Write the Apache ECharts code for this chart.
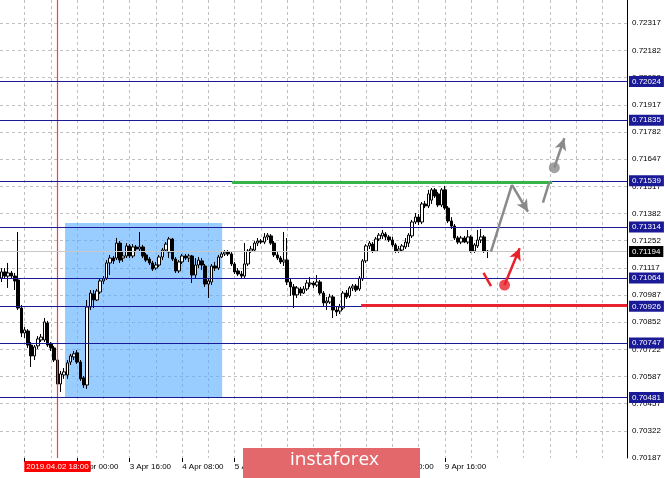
<!DOCTYPE html>
<html><head><meta charset="utf-8">
<script src="https://cdn.jsdelivr.net/npm/echarts@6/dist/echarts.min.js"></script>
<style>html,body{margin:0;padding:0;background:#fff}#c{width:665px;height:478px}</style>
</head><body><div id="c"></div>
<script>
// ---- data ----
const sessions = [['2019.04.02',1,23],['2019.04.03',0,23],['2019.04.04',0,23],['2019.04.05',0,23],
                  ['2019.04.08',0,23],['2019.04.09',0,23],['2019.04.10',0,23],['2019.04.11',0,23]];
const categories = [];
sessions.forEach(([d,h0,h1]) => { for (let h=h0; h<=h1; h++) categories.push(d+' '+String(h).padStart(2,'0')+':00'); });

// [open, close, low, high]
const candles = [
[0.71064,0.71094,0.71045,0.71113],[0.71094,0.71074,0.71060,0.71113],[0.71074,0.71089,0.71016,0.71138],[0.71089,0.71074,0.71060,0.71099],
[0.71074,0.71050,0.71006,0.71089],[0.71055,0.70918,0.70908,0.71289],[0.70918,0.70796,0.70776,0.70933],[0.70796,0.70811,0.70772,0.70825],
[0.70806,0.70737,0.70723,0.70815],[0.70737,0.70684,0.70630,0.70752],[0.70684,0.70728,0.70664,0.70737],[0.70733,0.70767,0.70718,0.70781],
[0.70762,0.70776,0.70752,0.70791],[0.70762,0.70850,0.70752,0.70869],[0.70845,0.70737,0.70728,0.70855],[0.70742,0.70723,0.70708,0.70752],
[0.70723,0.70664,0.70654,0.70733],[0.70664,0.70547,0.70537,0.70674],[0.70547,0.70596,0.70508,0.70611],[0.70591,0.70606,0.70572,0.70625],
[0.70591,0.70650,0.70572,0.70664],[0.70654,0.70684,0.70640,0.70694],[0.70679,0.70694,0.70664,0.70708],[0.70699,0.70654,0.70645,0.70713],
[0.70654,0.70572,0.70562,0.70664],[0.70577,0.70542,0.70528,0.70586],[0.70542,0.70923,0.70523,0.70957],[0.70923,0.70991,0.70908,0.71006],
[0.70987,0.70957,0.70918,0.71006],[0.70957,0.71001,0.70952,0.71011],[0.70996,0.71050,0.70987,0.71060],[0.71050,0.71060,0.71035,0.71074],
[0.71064,0.71138,0.71055,0.71152],[0.71138,0.71162,0.71079,0.71177],[0.71162,0.71148,0.71133,0.71172],[0.71162,0.71235,0.71152,0.71260],
[0.71235,0.71152,0.71138,0.71245],[0.71162,0.71172,0.71143,0.71191],[0.71172,0.71221,0.71162,0.71235],[0.71221,0.71172,0.71162,0.71230],
[0.71172,0.71216,0.71162,0.71230],[0.71216,0.71206,0.71191,0.71226],[0.71206,0.71216,0.71191,0.71289],[0.71216,0.71172,0.71162,0.71226],
[0.71177,0.71152,0.71143,0.71187],[0.71157,0.71138,0.71128,0.71167],[0.71138,0.71108,0.71099,0.71148],[0.71113,0.71128,0.71104,0.71143],
[0.71128,0.71167,0.71118,0.71177],[0.71167,0.71201,0.71152,0.71211],[0.71201,0.71230,0.71196,0.71240],[0.71191,0.71255,0.71162,0.71265],
[0.71255,0.71157,0.71148,0.71260],[0.71157,0.71099,0.71089,0.71167],[0.71099,0.71143,0.71089,0.71152],[0.71143,0.71172,0.71133,0.71182],
[0.71172,0.71162,0.71152,0.71182],[0.71162,0.71172,0.71143,0.71182],[0.71172,0.71079,0.71040,0.71177],[0.71079,0.71128,0.71060,0.71162],
[0.71128,0.71152,0.71113,0.71167],[0.71148,0.71128,0.71104,0.71162],[0.71123,0.71035,0.71021,0.71133],[0.71035,0.71050,0.70967,0.71064],
[0.71045,0.71123,0.71030,0.71133],[0.71123,0.71113,0.71099,0.71143],[0.71113,0.71167,0.71104,0.71177],[0.71167,0.71182,0.71162,0.71196],
[0.71182,0.71191,0.71172,0.71201],[0.71191,0.71182,0.71172,0.71201],[0.71182,0.71133,0.71123,0.71191],[0.71133,0.71094,0.71084,0.71143],
[0.71099,0.71084,0.71074,0.71113],[0.71084,0.71074,0.71064,0.71099],[0.71074,0.71133,0.71064,0.71235],[0.71133,0.71196,0.71123,0.71206],
[0.71196,0.71206,0.71187,0.71221],[0.71201,0.71235,0.71191,0.71245],[0.71235,0.71245,0.71221,0.71260],[0.71245,0.71240,0.71230,0.71255],
[0.71240,0.71265,0.71230,0.71284],[0.71265,0.71274,0.71250,0.71284],[0.71270,0.71235,0.71226,0.71279],[0.71235,0.71177,0.71167,0.71245],
[0.71177,0.71162,0.71152,0.71191],[0.71162,0.71143,0.71133,0.71172],[0.71143,0.71152,0.71123,0.71289],[0.71152,0.71045,0.71030,0.71260],
[0.71045,0.71021,0.70977,0.71060],[0.71021,0.70982,0.70918,0.71035],[0.70982,0.71016,0.70967,0.71025],[0.71011,0.70991,0.70977,0.71021],
[0.70991,0.71011,0.70987,0.71025],[0.71011,0.71040,0.71001,0.71055],[0.71035,0.71040,0.71021,0.71069],[0.71040,0.71030,0.71016,0.71050],
[0.71030,0.71045,0.71021,0.71079],[0.71045,0.70991,0.70982,0.71055],[0.70991,0.70943,0.70928,0.71001],[0.70943,0.70952,0.70908,0.70972],
[0.70947,0.70972,0.70938,0.70987],[0.70972,0.70908,0.70869,0.70982],[0.70908,0.70899,0.70879,0.70928],[0.70903,0.70923,0.70889,0.70938],
[0.70918,0.70991,0.70908,0.71001],[0.70991,0.70972,0.70962,0.71006],[0.70977,0.71016,0.70967,0.71025],[0.71016,0.71025,0.71001,0.71035],
[0.71025,0.71006,0.70996,0.71035],[0.71011,0.71064,0.71001,0.71074],[0.71060,0.71148,0.71050,0.71157],[0.71148,0.71221,0.71138,0.71230],
[0.71221,0.71235,0.71206,0.71245],[0.71230,0.71196,0.71187,0.71240],[0.71196,0.71255,0.71191,0.71265],[0.71255,0.71274,0.71245,0.71284],
[0.71270,0.71284,0.71255,0.71299],[0.71279,0.71265,0.71250,0.71289],[0.71265,0.71250,0.71240,0.71274],[0.71250,0.71226,0.71216,0.71265],
[0.71226,0.71196,0.71187,0.71235],[0.71196,0.71206,0.71187,0.71221],[0.71201,0.71221,0.71191,0.71230],[0.71216,0.71240,0.71206,0.71260],
[0.71235,0.71274,0.71216,0.71284],[0.71270,0.71338,0.71260,0.71348],[0.71338,0.71362,0.71328,0.71382],[0.71362,0.71338,0.71323,0.71377],
[0.71338,0.71426,0.71328,0.71436],[0.71426,0.71416,0.71406,0.71441],[0.71416,0.71475,0.71406,0.71495],[0.71445,0.71495,0.71426,0.71504],
[0.71495,0.71465,0.71455,0.71504],[0.71475,0.71421,0.71411,0.71485],[0.71421,0.71495,0.71411,0.71504],[0.71495,0.71406,0.71397,0.71514],
[0.71406,0.71343,0.71333,0.71416],[0.71343,0.71318,0.71304,0.71362],[0.71318,0.71260,0.71250,0.71328],[0.71260,0.71240,0.71230,0.71270],
[0.71240,0.71260,0.71230,0.71270],[0.71260,0.71240,0.71235,0.71270],[0.71240,0.71265,0.71230,0.71299],[0.71265,0.71196,0.71187,0.71274],
[0.71196,0.71226,0.71187,0.71235],[0.71221,0.71250,0.71211,0.71299],[0.71250,0.71265,0.71235,0.71304],[0.71265,0.71196,0.71187,0.71274],
[0.71196,0.71194,0.71162,0.71201]
];
const lastBar = candles.length - 1;

const priceTicks = ['0.70187','0.70322','0.70457','0.70587','0.70722','0.70852','0.70987','0.71117','0.71252',
                    '0.71382','0.71517','0.71647','0.71782','0.71917','0.72052','0.72182','0.72317'];
const levels = [0.72024, 0.71835, 0.71539, 0.71314, 0.71064, 0.70926, 0.70747, 0.70481];
const bidPrice = 0.71194;
const crossIdx = 17;
const priceMin = 0.7018562, priceMax = 0.7242195;

// annotations: [bar position, price]
const rectZone = [[19.31, 0.71333], [67.17, 0.70478]];
const resistLine = [[70.2, 0.71531], [167.7, 0.71531]];
const supportLine = [[109.5, 0.70930], [190.5, 0.70930]];
const grayPath = [[149.06, 0.71193], [155.45, 0.71519], [160.33, 0.71388]];
const grayBreak = [[164.9, 0.71432], [166.9, 0.71535]];
const grayDot = [168.35, 0.71603];
const grayTip = [171.4, 0.71747];
const redTick = [[146.8, 0.71090], [149.06, 0.71025]];
const redDot = [153.2, 0.71030];
const redTip = [157.8, 0.71210];

// ---- chart ----
const chart = echarts.init(document.getElementById('c'), null, {renderer: 'canvas'});
const FONT = 'Liberation Sans, Arial, sans-serif';
const months = {'04': 'Apr'};
function fmtTime(s) {
  const d = s.slice(8, 10), m = s.slice(5, 7), t = s.slice(11);
  return (+d) + ' ' + months[m] + ' ' + t;
}
const labelAt = (i) => i >= 7 && i <= lastBar && (i - 7) % 16 === 0;
const gridAt = (i) => i >= 7 && (i - 7) % 8 === 0;
const seg = (a, b, arrow) => [{coord: a, symbol: 'none'}, {coord: b, symbol: arrow ? 'arrow' : 'none', symbolSize: [9, 12]}];
const dashed = {color: '#c0c0c0', type: [3, 3], width: 1};
const NAVY = '#1a1a96';
const CROSS = '#ff3b3b';

chart.setOption({
  animation: false,
  backgroundColor: '#ffffff',
  grid: {left: 0, right: 38, top: 0, bottom: 20, containLabel: false},
  xAxis: [{
    type: 'category', data: categories, boundaryGap: true, z: 1,
    axisLine: {show: false},
    axisTick: {show: true, alignWithLabel: true, interval: labelAt, length: 4, lineStyle: {color: '#000'}},
    axisLabel: {interval: labelAt, align: 'left', margin: 5, fontSize: 8, fontFamily: FONT, color: '#000',
                formatter: (v) => fmtTime(v)},
    splitLine: {show: true, alignWithLabel: true, interval: gridAt, lineStyle: dashed}
  }, {
    type: 'value', min: -0.5, max: 190.5, show: false
  }],
  yAxis: [{
    type: 'value', min: priceMin, max: priceMax, show: false, scale: true
  }, {
    type: 'value', position: 'right', min: 0, max: 16.857, interval: 1, z: 1,
    axisLine: {show: true, lineStyle: {color: '#000', width: 1}},
    axisTick: {show: false},
    axisLabel: {margin: 5, fontSize: 8, fontFamily: FONT, color: '#000',
                formatter: (v) => { const k = Math.round(v); return Math.abs(v - k) < 1e-6 && priceTicks[k] ? priceTicks[k] : ''; }},
    splitLine: {show: true, showMinLine: false, showMaxLine: false, lineStyle: dashed}
  }],
  series: [
    { // analysis zone
      type: 'scatter', xAxisIndex: 1, yAxisIndex: 0, data: [], z: 0, silent: true,
      markArea: {silent: true, itemStyle: {color: 'rgba(85,170,255,0.6)'},
                 data: [[{coord: rectZone[0]}, {coord: rectZone[1]}]]}
    },
    { // crosshair
      type: 'scatter', xAxisIndex: 1, yAxisIndex: 0, data: [], z: 2, silent: true,
      itemStyle: {color: CROSS}, color: CROSS,
      markLine: {
        silent: true, symbol: ['none', 'none'], animation: false, precision: 5,
        lineStyle: {color: CROSS, width: 1, type: 'solid', opacity: 1},
        label: {show: true, position: 'start', distance: 3, formatter: () => categories[crossIdx],
                backgroundColor: '#ff0000', color: '#fff', fontSize: 8, fontFamily: FONT, padding: [2, 2, 1, 2]},
        data: [[{coord: [crossIdx, priceMin], lineStyle: {color: CROSS, width: 1.2, type: 'solid'}},
                {coord: [crossIdx, priceMax]}]]
      }
    },
    { // price
      type: 'candlestick', xAxisIndex: 0, yAxisIndex: 0, data: candles, z: 3, barWidth: 3,
      itemStyle: {color: '#ffffff', color0: '#000000', borderColor: '#000000', borderColor0: '#000000', borderWidth: 1}
    },
    { // horizontal levels
      type: 'scatter', xAxisIndex: 1, yAxisIndex: 0, data: [], z: 4, silent: true,
      markLine: {
        silent: true, symbol: ['none', 'none'], animation: false, precision: 5,
        label: {show: true, position: 'end', distance: 2, color: '#fff', fontSize: 8, fontFamily: FONT,
                padding: [2, 3, 1, 3], formatter: (p) => Number(p.value).toFixed(5)},
        data: [{yAxis: bidPrice, lineStyle: {color: '#c8c8c8', width: 1, type: 'solid'}, label: {backgroundColor: '#000'}}]
          .concat(levels.map(v => ({yAxis: v, lineStyle: {color: NAVY, width: 1, type: 'solid'},
                                     label: {backgroundColor: NAVY}})))
      }
    },
    { // support / resistance segments
      type: 'scatter', xAxisIndex: 1, yAxisIndex: 0, data: [], z: 5, silent: true,
      markLine: {
        silent: true, symbol: ['none', 'none'], animation: false, precision: 5, label: {show: false},
        data: [
          [{coord: resistLine[0], lineStyle: {color: '#36b44a', width: 3, type: 'solid'}}, {coord: resistLine[1]}],
          [{coord: supportLine[0], lineStyle: {color: '#e8232f', width: 3, type: 'solid'}}, {coord: supportLine[1]}]
        ]
      }
    },
    { // gray scenario
      type: 'scatter', xAxisIndex: 1, yAxisIndex: 0, data: [grayDot], symbolSize: 11, z: 6, silent: true,
      itemStyle: {color: '#8a8a8a'},
      markLine: {
        silent: true, animation: false, label: {show: false}, precision: 5,
        lineStyle: {color: '#8a8a8a', width: 2.5, type: 'solid'},
        data: [seg(grayPath[0], grayPath[1], false), seg(grayPath[1], grayPath[2], true),
               seg(grayBreak[0], grayBreak[1], false), seg(grayDot, grayTip, true)]
      }
    },
    { // red scenario
      type: 'scatter', xAxisIndex: 1, yAxisIndex: 0, data: [redDot], symbolSize: 11, z: 6, silent: true,
      itemStyle: {color: '#e8202a'},
      markLine: {
        silent: true, animation: false, label: {show: false}, precision: 5,
        lineStyle: {color: '#e8202a', width: 2.5, type: 'solid'},
        data: [seg(redTick[0], redTick[1], false), seg(redDot, redTip, true)]
      }
    }
  ],
  graphic: [
    {type: 'rect', left: 243, top: 448, shape: {width: 177, height: 30}, style: {fill: '#e2686b'}, z: 100},
    {type: 'text', left: 290, top: 450, style: {text: 'instaforex', fill: '#ffffff', fontSize: 19,
      fontFamily: 'Open Sans, Liberation Sans, sans-serif'}, z: 101}
  ]
});
</script>
</body></html>
